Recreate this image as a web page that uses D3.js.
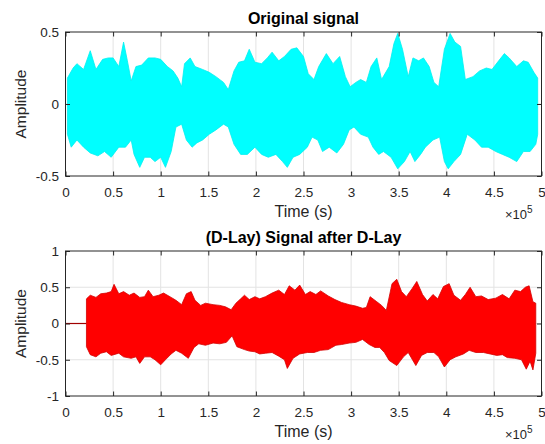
<!DOCTYPE html>
<html>
<head>
<meta charset="utf-8">
<script src="https://cdn.jsdelivr.net/npm/d3@7"></script>
<style>
  html, body { margin: 0; padding: 0; background: #ffffff; }
  svg { display: block; font-family: "Liberation Sans", Arial, Helvetica, sans-serif; }
</style>
</head>
<body>
<svg id="chart" width="545" height="444"></svg>
<script>
// ---------------- DATA (time in units of 1e5 samples) ----------------
const xTicks = [0, 0.5, 1, 1.5, 2, 2.5, 3, 3.5, 4, 4.5, 5];
const yTicksTop = [-0.5, 0, 0.5];
const yTicksBottom = [-1, -0.5, 0, 0.5, 1];

const titles = ["Original signal", "(D-Lay) Signal after D-Lay"];
const xLabel = "Time (s)";
const yLabel = "Amplitude";

// upper / lower envelope of the original (cyan) signal, [time, amplitude]
const origUpper = [[0.02,0.18],[0.08,0.25],[0.12,0.28],[0.19,0.24],[0.26,0.37],[0.32,0.24],[0.39,0.31],[0.45,0.32],[0.50,0.32],[0.56,0.26],[0.61,0.43],[0.65,0.30],[0.69,0.16],[0.74,0.26],[0.80,0.27],[0.87,0.32],[0.94,0.32],[1.00,0.31],[1.07,0.26],[1.13,0.23],[1.18,0.18],[1.22,0.12],[1.25,0.28],[1.31,0.32],[1.36,0.26],[1.44,0.24],[1.51,0.22],[1.58,0.19],[1.66,0.15],[1.71,0.10],[1.77,0.23],[1.82,0.29],[1.88,0.30],[1.93,0.38],[1.99,0.29],[2.06,0.28],[2.12,0.32],[2.17,0.36],[2.24,0.30],[2.30,0.33],[2.37,0.38],[2.43,0.39],[2.50,0.33],[2.55,0.21],[2.61,0.17],[2.66,0.26],[2.74,0.35],[2.81,0.28],[2.88,0.33],[2.94,0.19],[2.99,0.12],[3.05,0.15],[3.10,0.17],[3.16,0.15],[3.21,0.26],[3.27,0.32],[3.32,0.17],[3.40,0.26],[3.45,0.42],[3.49,0.49],[3.54,0.38],[3.60,0.19],[3.65,0.32],[3.71,0.30],[3.76,0.32],[3.82,0.26],[3.87,0.15],[3.92,0.12],[3.98,0.38],[4.04,0.49],[4.09,0.43],[4.15,0.40],[4.20,0.17],[4.28,0.19],[4.35,0.23],[4.42,0.25],[4.48,0.24],[4.55,0.30],[4.61,0.35],[4.66,0.32],[4.74,0.26],[4.81,0.30],[4.86,0.29],[4.92,0.22],[4.96,0.18]];
const origLower = [[0.02,-0.21],[0.06,-0.30],[0.12,-0.25],[0.19,-0.30],[0.26,-0.34],[0.34,-0.36],[0.41,-0.33],[0.48,-0.37],[0.56,-0.30],[0.63,-0.30],[0.69,-0.25],[0.72,-0.35],[0.78,-0.44],[0.83,-0.37],[0.89,-0.37],[0.94,-0.40],[1.00,-0.37],[1.05,-0.44],[1.11,-0.33],[1.16,-0.16],[1.22,-0.14],[1.27,-0.25],[1.33,-0.30],[1.38,-0.27],[1.44,-0.25],[1.51,-0.21],[1.58,-0.18],[1.66,-0.14],[1.71,-0.16],[1.77,-0.28],[1.84,-0.35],[1.91,-0.35],[1.99,-0.30],[2.06,-0.35],[2.13,-0.37],[2.21,-0.35],[2.28,-0.40],[2.33,-0.44],[2.39,-0.37],[2.46,-0.35],[2.54,-0.30],[2.59,-0.23],[2.65,-0.25],[2.70,-0.33],[2.77,-0.30],[2.85,-0.34],[2.92,-0.28],[2.98,-0.18],[3.03,-0.16],[3.10,-0.21],[3.18,-0.23],[3.23,-0.30],[3.29,-0.35],[3.34,-0.33],[3.42,-0.37],[3.49,-0.45],[3.56,-0.40],[3.62,-0.33],[3.67,-0.40],[3.73,-0.35],[3.78,-0.30],[3.86,-0.25],[3.93,-0.23],[3.98,-0.40],[4.02,-0.45],[4.08,-0.40],[4.15,-0.35],[4.22,-0.21],[4.30,-0.25],[4.37,-0.30],[4.44,-0.30],[4.52,-0.33],[4.59,-0.35],[4.66,-0.37],[4.74,-0.40],[4.81,-0.33],[4.88,-0.33],[4.94,-0.28],[4.96,-0.21]];

// delayed (red) signal: silent lead-in, then upper / lower envelope
const delayFlat = [[0,0],[0.22,0]];
const delayUpper = [[0.22,0.34],[0.26,0.39],[0.32,0.36],[0.37,0.41],[0.43,0.42],[0.48,0.44],[0.51,0.54],[0.56,0.41],[0.61,0.44],[0.67,0.39],[0.72,0.42],[0.78,0.36],[0.83,0.37],[0.87,0.46],[0.92,0.37],[0.98,0.39],[1.03,0.42],[1.11,0.36],[1.16,0.32],[1.22,0.26],[1.27,0.41],[1.32,0.44],[1.36,0.32],[1.42,0.25],[1.47,0.28],[1.55,0.26],[1.62,0.25],[1.68,0.23],[1.74,0.19],[1.79,0.28],[1.84,0.34],[1.88,0.39],[1.93,0.33],[1.99,0.37],[2.04,0.34],[2.10,0.37],[2.17,0.42],[2.24,0.46],[2.30,0.40],[2.35,0.52],[2.41,0.46],[2.46,0.53],[2.52,0.40],[2.57,0.44],[2.63,0.40],[2.68,0.45],[2.76,0.38],[2.83,0.33],[2.90,0.29],[2.98,0.26],[3.05,0.24],[3.12,0.21],[3.16,0.22],[3.20,0.37],[3.27,0.30],[3.32,0.25],[3.37,0.18],[3.43,0.55],[3.48,0.61],[3.53,0.44],[3.58,0.37],[3.64,0.48],[3.69,0.58],[3.75,0.40],[3.80,0.31],[3.86,0.40],[3.91,0.34],[3.97,0.51],[4.03,0.55],[4.08,0.39],[4.15,0.32],[4.20,0.40],[4.25,0.50],[4.31,0.37],[4.37,0.38],[4.44,0.33],[4.52,0.35],[4.59,0.40],[4.66,0.34],[4.72,0.46],[4.78,0.44],[4.83,0.50],[4.87,0.52],[4.91,0.30],[4.94,0.28]];
const delayLower = [[0.22,-0.32],[0.26,-0.43],[0.32,-0.46],[0.37,-0.41],[0.43,-0.39],[0.48,-0.44],[0.56,-0.41],[0.61,-0.46],[0.69,-0.48],[0.74,-0.46],[0.78,-0.55],[0.83,-0.46],[0.89,-0.46],[0.94,-0.50],[1.00,-0.57],[1.05,-0.50],[1.11,-0.42],[1.16,-0.37],[1.22,-0.41],[1.29,-0.48],[1.35,-0.33],[1.40,-0.28],[1.47,-0.30],[1.55,-0.27],[1.62,-0.28],[1.69,-0.26],[1.75,-0.17],[1.80,-0.32],[1.88,-0.36],[1.93,-0.38],[1.99,-0.39],[2.04,-0.42],[2.10,-0.41],[2.17,-0.40],[2.24,-0.45],[2.30,-0.50],[2.33,-0.62],[2.39,-0.48],[2.46,-0.42],[2.54,-0.40],[2.61,-0.40],[2.68,-0.37],[2.76,-0.36],[2.84,-0.30],[2.90,-0.29],[2.98,-0.27],[3.05,-0.26],[3.12,-0.22],[3.19,-0.29],[3.25,-0.33],[3.30,-0.33],[3.35,-0.40],[3.40,-0.51],[3.48,-0.58],[3.55,-0.46],[3.60,-0.40],[3.68,-0.58],[3.74,-0.44],[3.80,-0.40],[3.87,-0.40],[3.92,-0.46],[3.98,-0.60],[4.04,-0.50],[4.10,-0.46],[4.18,-0.42],[4.24,-0.37],[4.31,-0.40],[4.39,-0.40],[4.46,-0.42],[4.53,-0.44],[4.59,-0.43],[4.64,-0.47],[4.72,-0.48],[4.79,-0.50],[4.84,-0.63],[4.88,-0.52],[4.91,-0.64],[4.94,-0.41]];

// ---------------- LAYOUT ----------------
const svg = d3.select("#chart");
const left = 65.5, right = 541.5;
const panels = [
  { top: 32, bottom: 176, yDomain: [-0.5, 0.5], yTicks: yTicksTop, title: titles[0],
    upper: origUpper, lower: origLower, fill: "#00ffff", stroke: "#00f0f0", flat: null },
  { top: 251, bottom: 396, yDomain: [-1, 1], yTicks: yTicksBottom, title: titles[1],
    upper: delayUpper, lower: delayLower, fill: "#ff0000", stroke: "#d40000", flat: delayFlat }
];

const axisColor = "#262626";
const gridColor = "#e3e3e3";
const fmt = d => String(d);

panels.forEach(p => {
  const x = d3.scaleLinear().domain([0, 5]).range([left, right]);
  const y = d3.scaleLinear().domain(p.yDomain).range([p.bottom, p.top]);
  const g = svg.append("g");

  // grid
  g.append("g").selectAll("line").data(xTicks.slice(1, -1)).join("line")
    .attr("x1", d => x(d)).attr("x2", d => x(d))
    .attr("y1", p.top).attr("y2", p.bottom)
    .attr("stroke", gridColor).attr("stroke-width", 1);
  g.append("g").selectAll("line").data(p.yTicks.slice(1, -1)).join("line")
    .attr("x1", left).attr("x2", right)
    .attr("y1", d => y(d)).attr("y2", d => y(d))
    .attr("stroke", gridColor).attr("stroke-width", 1);

  // signal
  const line = d3.line().x(d => x(d[0])).y(d => y(d[1]));
  if (p.flat) {
    g.append("path").attr("d", line(p.flat))
      .attr("fill", "none").attr("stroke", "#a00000").attr("stroke-width", 1.2);
  }
  const poly = p.upper.concat(p.lower.slice().reverse());
  g.append("path").attr("d", line(poly) + "Z")
    .attr("fill", p.fill).attr("stroke", p.stroke)
    .attr("stroke-width", 0.8).attr("stroke-linejoin", "miter");

  // axes (ticks inside)
  const tk = 4.5;
  const xb = g.append("g").attr("transform", `translate(0,${p.bottom})`)
    .call(d3.axisBottom(x).tickValues(xTicks).tickFormat(fmt).tickSize(-tk).tickPadding(11.5));
  const xt = g.append("g").attr("transform", `translate(0,${p.top})`)
    .call(d3.axisTop(x).tickValues(xTicks).tickFormat("").tickSize(-tk));
  const yl = g.append("g").attr("transform", `translate(${left},0)`)
    .call(d3.axisLeft(y).tickValues(p.yTicks).tickFormat(fmt).tickSize(-tk).tickPadding(6.5));
  const yr = g.append("g").attr("transform", `translate(${right},0)`)
    .call(d3.axisRight(y).tickValues(p.yTicks).tickFormat("").tickSize(-tk));
  [xb, xt, yl, yr].forEach(a => {
    a.select(".domain").remove();
    a.selectAll(".tick line").attr("stroke", axisColor);
    a.selectAll(".tick text").attr("fill", axisColor)
      .style("font-size", "13.5px").style("font-family", '"Liberation Sans", Arial, sans-serif');
  });

  // box
  g.append("rect").attr("x", left).attr("y", p.top)
    .attr("width", right - left).attr("height", p.bottom - p.top)
    .attr("fill", "none").attr("stroke", axisColor).attr("stroke-width", 1);

  // title
  g.append("text").attr("x", (left + right) / 2).attr("y", p.top - 8)
    .attr("text-anchor", "middle").attr("font-weight", "bold")
    .attr("font-size", "16px").attr("fill", "#000").text(p.title);

  // x label
  g.append("text").attr("x", (left + right) / 2).attr("y", p.bottom + 41)
    .attr("text-anchor", "middle").attr("font-size", "16px").attr("fill", axisColor).text(xLabel);

  // exponent
  const ex = g.append("text").attr("x", 505).attr("y", p.bottom + 43)
    .attr("font-size", "13px").attr("fill", axisColor);
  ex.append("tspan").text("\u00d710");
  ex.append("tspan").attr("dy", -6).attr("font-size", "10px").text("5");

  // y label
  g.append("text")
    .attr("transform", `translate(26,${(p.top + p.bottom) / 2}) rotate(-90)`)
    .attr("text-anchor", "middle").attr("font-size", "15.5px").attr("fill", axisColor).text(yLabel);
});
</script>
</body>
</html>
